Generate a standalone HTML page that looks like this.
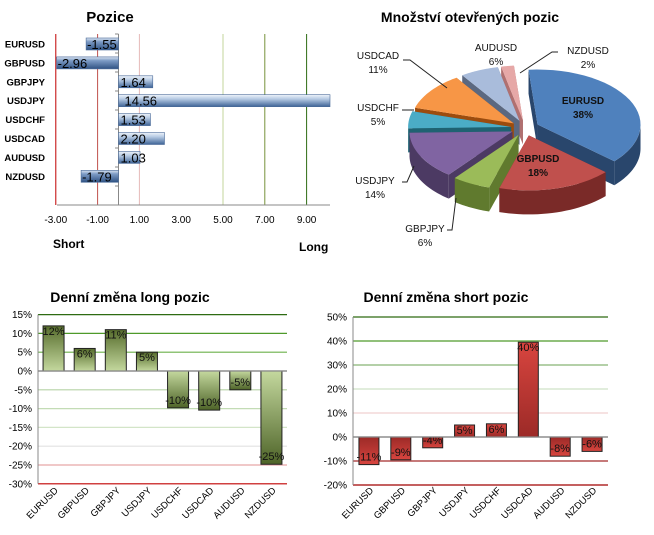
<!DOCTYPE html>
<html><head><meta charset="utf-8"><style>
html,body{margin:0;padding:0;background:#fff;}
svg{display:block;font-family:"Liberation Sans",sans-serif;}
</style></head><body>
<svg id="s" width="654" height="535" viewBox="0 0 654 535" xmlns="http://www.w3.org/2000/svg">
<defs>
<linearGradient id="gBlue" x1="0" y1="0" x2="0" y2="1"><stop offset="0" stop-color="#eef3fa"/><stop offset="0.35" stop-color="#b7cbe4"/><stop offset="1" stop-color="#3d6396"/></linearGradient>
<linearGradient id="gBlueN" x1="0" y1="0" x2="0" y2="1"><stop offset="0" stop-color="#dde7f3"/><stop offset="0.3" stop-color="#7e9cc6"/><stop offset="1" stop-color="#2f5283"/></linearGradient>
<linearGradient id="gGreenP" x1="0" y1="0" x2="0" y2="1"><stop offset="0" stop-color="#566c2c"/><stop offset="1" stop-color="#c4d89e"/></linearGradient>
<linearGradient id="gGreenN" x1="0" y1="0" x2="0" y2="1"><stop offset="0" stop-color="#c4d89e"/><stop offset="1" stop-color="#4e6428"/></linearGradient>
<linearGradient id="gRedP" x1="0" y1="0" x2="0" y2="1"><stop offset="0" stop-color="#d8453f"/><stop offset="1" stop-color="#9c2a27"/></linearGradient>
<linearGradient id="gRedN" x1="0" y1="0" x2="0" y2="1"><stop offset="0" stop-color="#9c2a27"/><stop offset="1" stop-color="#d8453f"/></linearGradient>
</defs>
<g id="c1"></g>
<g id="c2"></g>
<g id="c3"></g>
<g id="c4"></g>
</svg>
<script>
const pairs = ["EURUSD","GBPUSD","GBPJPY","USDJPY","USDCHF","USDCAD","AUDUSD","NZDUSD"];
const positions = [-1.55,-2.96,1.64,14.56,1.53,2.20,1.03,-1.79];
const posLabels = ["-1.55","-2.96","1.64","14.56","1.53","2.20","1.03","-1.79"];
const posTicks = [-3,-1,1,3,5,7,9];
const posTickLabels = ["-3.00","-1.00","1.00","3.00","5.00","7.00","9.00"];
const pieShares = [38,18,6,14,5,11,6,2];
const longChange = [12,6,11,5,-9.8,-10.4,-5,-24.8];
const longLabels = ["12%","6%","11%","5%","-10%","-10%","-5%","-25%"];
const longTicks = [15,10,5,0,-5,-10,-15,-20,-25,-30];
const shortChange = [-11.5,-9.5,-4.5,5,5.5,39.5,-8,-6];
const shortLabels = ["-11%","-9%","-4%","5%","6%","40%","-8%","-6%"];
const shortTicks = [50,40,30,20,10,0,-10,-20];

const NS="http://www.w3.org/2000/svg";
function mk(parent,tag,attrs,text){const e=document.createElementNS(NS,tag);for(const k in attrs)e.setAttribute(k,attrs[k]);if(text!==undefined)e.textContent=text;parent.appendChild(e);return e;}

// ---- Chart 1 ----
const c1=document.getElementById('c1');
const x1=v=>118.5+v*20.9;
const rowY=i=>44+i*18.9;
let t=mk(c1,'text',{x:110,y:22,'text-anchor':'middle','font-size':15,'font-weight':'bold'},'Pozice');


const gridCols={"-3":"#c00000","-1":"#c0504d","1":"#e6b9b8","5":"#c3d69b","7":"#77933c","9":"#2e6b12"};
posTicks.forEach((v,i)=>{
  if(gridCols[v]){const l=mk(c1,'line',{x1:x1(v),x2:x1(v),y1:34,y2:205,stroke:gridCols[v],'stroke-width':1});
  
  }
  const tl=mk(c1,'text',{x:x1(v),y:223,'text-anchor':'middle','font-size':10},posTickLabels[i]);
  
  
});
mk(c1,'line',{x1:118.5,x2:118.5,y1:34,y2:205,stroke:'#888'});
mk(c1,'line',{x1:57,x2:330,y1:205,y2:205,stroke:'#888'});
for(let i=0;i<=9;i++)mk(c1,'line',{x1:115,x2:118.5,y1:34+i*19,y2:34+i*19,stroke:'#888'});
pairs.forEach((p,i)=>{
  const v=positions[i],y=rowY(i);
  let a=x1(Math.min(0,v)),b=Math.min(330,x1(Math.max(0,v)));
  const r=mk(c1,'rect',{x:a,y:y-6,width:b-a,height:12,fill:v<0?'url(#gBlueN)':'url(#gBlue)',stroke:'#4a6a98','stroke-width':0.6});
  
  
  const cl=mk(c1,'text',{x:45,y:y+3.5,'text-anchor':'end','font-size':9.5,'font-weight':'bold'},p);
  
  
  const lx=v<0?x1(v)+1:x1(0)+(v>5?6:2);
  const vl=mk(c1,'text',{x:lx,y:y+5,'font-size':13},posLabels[i]);
  
  
});
t=mk(c1,'text',{x:53,y:248,'font-size':12,'font-weight':'bold'},'Short');


t=mk(c1,'text',{x:299,y:251,'font-size':12,'font-weight':'bold'},'Long');



// ---- Pie ----
const c2=document.getElementById('c2');
t=mk(c2,'text',{x:470,y:22,'text-anchor':'middle','font-size':14,'font-weight':'bold'},'Množství otevřených pozic');


const topCols=["#4f81bd","#c0504d","#9bbb59","#8064a2","#4bacc6","#f79646","#a9bcdb","#e6a8a7"];
const wallCols=["#29466c","#7a2a28","#607a2e","#4c3a63","#1f6272","#9c4c0e","#5b6880","#b07070"];
const cx=525,cy=128,rx=103,ry=55,dep=24;
const total=pieShares.reduce((a,b)=>a+b,0);
let ang=-95;
const slices=pieShares.map((s,i)=>{const a0=ang;ang+=s/total*360;return {i,a0,a1:ang};});
const rad=d=>d*Math.PI/180;
function pt(ox,oy,a,dy){return [ox+rx*Math.cos(rad(a)),oy+ry*Math.sin(rad(a))+(dy||0)];}
slices.slice().sort((A,B)=>Math.sin(rad((A.a0+A.a1)/2))-Math.sin(rad((B.a0+B.a1)/2))).forEach(S=>{
  const mid=(S.a0+S.a1)/2, ex=14;
  const ox=cx+ex*Math.cos(rad(mid)), oy=cy+ex*0.55*Math.sin(rad(mid));
  const g=mk(c2,'g',{});
  
  
  // radial faces
  [S.a0,S.a1].forEach(a=>{const p=pt(ox,oy,a);
    mk(g,'path',{d:`M${ox},${oy} L${p[0]},${p[1]} L${p[0]},${p[1]+dep} L${ox},${oy+dep}Z`,fill:wallCols[S.i]});});
  // outer wall
  const w0=Math.max(S.a0,0),w1=Math.min(S.a1,180);
  if(w1>w0){let d='';const n=24;
    for(let k=0;k<=n;k++){const p=pt(ox,oy,w0+(w1-w0)*k/n);d+=(k?'L':'M')+p[0]+','+p[1];}
    for(let k=n;k>=0;k--){const p=pt(ox,oy,w0+(w1-w0)*k/n,dep);d+='L'+p[0]+','+p[1];}
    mk(g,'path',{d:d+'Z',fill:wallCols[S.i]});}
  // top
  let d=`M${ox},${oy}`;const n=30;
  for(let k=0;k<=n;k++){const p=pt(ox,oy,S.a0+(S.a1-S.a0)*k/n);d+='L'+p[0]+','+p[1];}
  mk(g,'path',{d:d+'Z',fill:topCols[S.i]});
});
const pieLbl=[[583,104,1],[538,162,1],[425,232,0],[375,184,0],[378,111,0],[378,59,0],[496,51,0],[588,54,0]];
const leaders=["", "", "M452,201 L455,230 L450,230","M414,165 L408,182 L403,182","M412,109 L400,109","M447,92 L405,60 L400,60","",""  ,"M525,73 L560,52"];
["","","M456,198 L452,230 L447,230","M414,166 L407,182 L402,182","M414,110 L402,110","M447,88 L410,60 L403,60","","M520,73 L552,52 L558,52"].forEach(d=>{if(d){const l=mk(c2,'path',{d:d,fill:'none',stroke:'#222','stroke-width':1});}});
pieShares.forEach((s,i)=>{const L=pieLbl[i];
  const a=mk(c2,'text',{x:L[0],y:L[1],'text-anchor':'middle','font-size':10,'font-weight':L[2]?'bold':'normal',fill:'#111'},pairs[i]);
  
  
  const b=mk(c2,'text',{x:L[0],y:L[1]+14,'text-anchor':'middle','font-size':10,'font-weight':L[2]?'bold':'normal',fill:'#111'},Math.round(s/total*100)+'%');
  
  
});

// ---- Bar charts ----
function barChart(gid,title,titleX,vals,labels,ticks,yfn,xl,xr,gridC,fillP,fillN,bw,dn){
  const g=document.getElementById(gid);
  let tt=mk(g,'text',{x:titleX,y:302,'text-anchor':'middle','font-size':14,'font-weight':'bold'},title);
  
  
  ticks.forEach((v,i)=>{
    const l=mk(g,'line',{x1:xl,x2:xr,y1:yfn(v),y2:yfn(v),stroke:gridC[i],'stroke-width':1.2});
    
    
    const tl=mk(g,'text',{x:xl-6,y:yfn(v)+3.5,'text-anchor':'end','font-size':10},v+'%');
    
    
  });
  mk(g,'line',{x1:xl,x2:xl,y1:yfn(ticks[0]),y2:yfn(ticks[ticks.length-1]),stroke:'#888'});
  const cw=(xr-xl)/vals.length;
  vals.forEach((v,i)=>{
    const xc=xl+(i+0.5)*cw,y0=yfn(0),yv=yfn(v);
    const r=mk(g,'rect',{x:xc-bw/2,y:Math.min(y0,yv),width:bw,height:Math.abs(yv-y0),fill:v>=0?fillP:fillN,stroke:'#222','stroke-width':1});
    
    
    const ly=v>=0?yv+9:yv-4;
    const vl=mk(g,'text',{x:xc,y:ly,'text-anchor':'middle','font-size':11,fill:'#111'},labels[i]);
    
    
    const cl=mk(g,'text',{x:xc+5,y:491,'text-anchor':'end','font-size':9.5,transform:`rotate(-45 ${xc+5} 491)`},pairs[i]);
    
    
  });
  mk(g,'line',{x1:xl,x2:xr,y1:yfn(0),y2:yfn(0),stroke:'#888','stroke-width':1.2});
}
barChart('c3','Denní změna long pozic',130,longChange,longLabels,longTicks,v=>371-v*3.76,38,287,
  ["#2e6b12","#4f9a2a","#6cb04a","#999","#b6d3a6","#c3dcb5","#d3e5c8","#e2e2e2","#e6a8a7","#c00000"],'url(#gGreenP)','url(#gGreenN)',21,'long-change');
barChart('c4','Denní změna short pozic',446,shortChange,shortLabels,shortTicks,v=>437-v*2.4,353,608,
  ["#2e6b12","#4f9a2a","#86b474","#cfe2c6","#f0d0d0","#999","#a52a2a","#a00000"],'url(#gRedP)','url(#gRedN)',20,'short-change');
</script>
</body></html>
